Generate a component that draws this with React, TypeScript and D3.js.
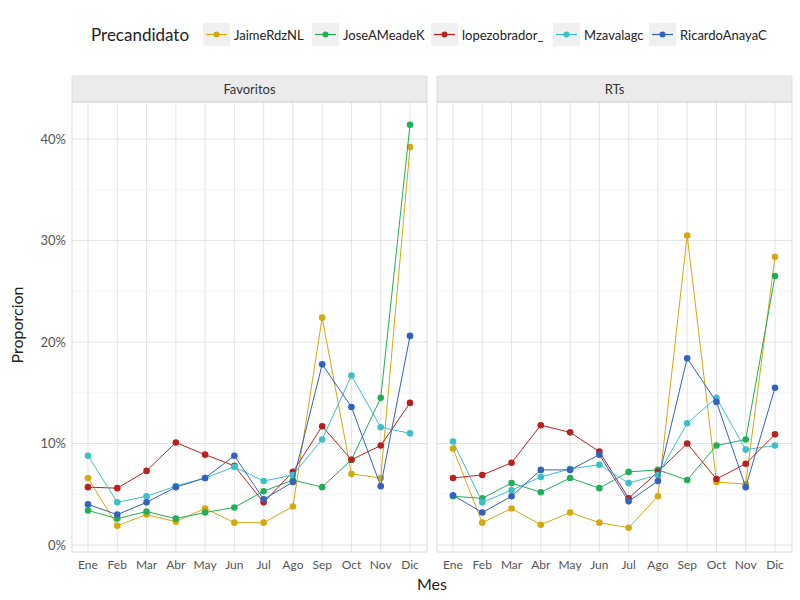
import * as d3 from "d3"

const months = ["Ene", "Feb", "Mar", "Abr", "May", "Jun", "Jul", "Ago", "Sep", "Oct", "Nov", "Dic"]
const panels = ["Favoritos", "RTs"]
const candidates = ["JaimeRdzNL", "JoseAMeadeK", "lopezobrador_", "Mzavalagc", "RicardoAnayaC"]
const colors = ["#D4A80F", "#22AE56", "#B8221E", "#3DBFC8", "#3361C0"]
const yTicks = [0, 0.1, 0.2, 0.3, 0.4]

// values in percent, one row per candidate
const favoritos = [
  [6.6, 1.9, 3.0, 2.3, 3.6, 2.2, 2.2, 3.8, 22.4, 7.0, 6.6, 39.2],
  [3.4, 2.6, 3.3, 2.6, 3.2, 3.7, 5.3, 6.4, 5.7, 8.4, 14.5, 41.4],
  [5.7, 5.6, 7.3, 10.1, 8.9, 7.8, 4.2, 7.2, 11.7, 8.4, 9.8, 14.0],
  [8.8, 4.2, 4.8, 5.8, 6.6, 7.7, 6.3, 6.9, 10.4, 16.7, 11.6, 11.0],
  [4.0, 3.0, 4.2, 5.7, 6.6, 8.8, 4.5, 6.2, 17.8, 13.6, 5.8, 20.6],
]
const rts = [
  [9.5, 2.2, 3.6, 2.0, 3.2, 2.2, 1.7, 4.8, 30.5, 6.2, 6.0, 28.4],
  [4.8, 4.6, 6.1, 5.2, 6.6, 5.6, 7.2, 7.4, 6.4, 9.8, 10.4, 26.5],
  [6.6, 6.9, 8.1, 11.8, 11.1, 9.2, 4.6, 7.2, 10.0, 6.5, 8.0, 10.9],
  [10.2, 4.2, 5.4, 6.7, 7.5, 7.9, 6.1, 6.9, 12.0, 14.5, 9.4, 9.8],
  [4.9, 3.2, 4.8, 7.4, 7.4, 8.9, 4.3, 6.3, 18.4, 14.1, 5.7, 15.5],
]
const panelData = [favoritos, rts]

const font = "Lato, 'DejaVu Sans', sans-serif"
const panelX = [72, 437]
const panelW = 355
const top = 102
const bottom = 552

export default function App() {
  const y = d3.scaleLinear().domain([0, 0.4]).range([545, 139])
  const xs = panelX.map((px) =>
    d3.scalePoint<string>().domain(months).range([px + 16, px + panelW - 17])
  )
  const line = (x: d3.ScalePoint<string>) =>
    d3
      .line<number>()
      .x((_, i) => x(months[i]) || 0)
      .y((d) => y(d / 100))

  const legendKeys = [203, 312, 431, 553, 649]
  const minorTicks = [0.05, 0.15, 0.25, 0.35]

  return (
    <svg width={800} height={600} style={{ position: "absolute", left: 0, top: 0, background: "#fff" }} fontFamily={font}>
      {/* legend */}
      <text x={91} y={41} fontSize={17} fill="#222">Precandidato</text>
      {candidates.map((c, i) => (
        <g key={c} transform={`translate(${legendKeys[i]},23)`}>
          <rect width={27} height={23} fill="#f0f0f0" />
          <line x1={3} x2={24} y1={11.5} y2={11.5} stroke={colors[i]} strokeWidth={1.2} />
          <circle cx={13.5} cy={11.5} r={3} fill={colors[i]} />
          <text x={31} y={16.5} fontSize={13} fill="#222">{c}</text>
        </g>
      ))}

      {panels.map((p, pi) => {
        const x = xs[pi]
        const px = panelX[pi]
        return (
          <g key={p}>
            <rect x={px} y={76} width={panelW} height={26} fill="#ebebeb" stroke="#d0d0d0" strokeWidth={0.6} />
            <text x={px + panelW / 2} y={94} textAnchor="middle" fontSize={13} fill="#333">{p}</text>
            {minorTicks.map((t) => (
              <line key={t} x1={px} x2={px + panelW} y1={y(t)} y2={y(t)} stroke="#f0f0f0" strokeWidth={0.6} />
            ))}
            {yTicks.map((t) => (
              <line key={t} x1={px} x2={px + panelW} y1={y(t)} y2={y(t)} stroke="#dcdcdc" strokeWidth={0.8} />
            ))}
            {months.map((m) => (
              <line key={m} x1={x(m)} x2={x(m)} y1={top} y2={bottom} stroke="#dcdcdc" strokeWidth={0.8} />
            ))}
            <rect x={px} y={top} width={panelW} height={bottom - top} fill="none" stroke="#d0d0d0" strokeWidth={0.8} />
            {months.map((m) => (
              <text key={m} x={x(m)} y={569} textAnchor="middle" fontSize={12} fill="#555">{m}</text>
            ))}
            {panelData[pi].map((vals, ci) => (
              <g key={ci}>
                <path d={line(x)(vals) || ""} fill="none" stroke={colors[ci]} strokeWidth={1} />
                {vals.map((v, i) => (
                  <circle key={i} cx={x(months[i])} cy={y(v / 100)} r={3.3} fill={colors[ci]} />
                ))}
              </g>
            ))}
          </g>
        )
      })}

      {yTicks.map((t) => (
        <text key={t} x={66} y={y(t) + 4.5} textAnchor="end" fontSize={13} fill="#555">
          {d3.format(".0%")(t)}
        </text>
      ))}
      <text x={432} y={590} textAnchor="middle" fontSize={16} fill="#222">Mes</text>
      <text transform="translate(23,325) rotate(-90)" textAnchor="middle" fontSize={16} fill="#222">Proporcion</text>
    </svg>
  )
}
